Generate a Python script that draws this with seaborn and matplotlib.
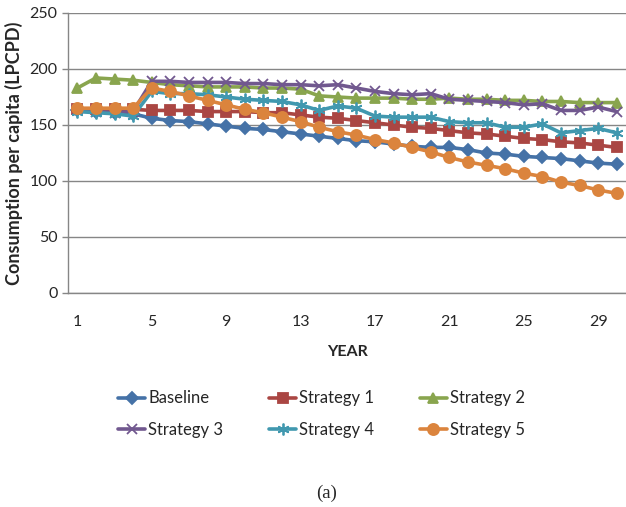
import matplotlib
matplotlib.use('Agg')
import matplotlib.pyplot as plt
import seaborn as sns

# values
years = list(range(1, 31))
baseline = [163, 162, 161, 160, 156, 154, 153, 151, 149, 147, 146, 144, 142, 140, 138,
            136, 135, 133, 131, 130, 130, 128, 125, 124, 122, 121, 120, 118, 116, 115]
strategy1 = [164, 164, 164, 164, 163, 163, 163, 162, 162, 162, 161, 161, 159, 157, 156,
             154, 152, 150, 148, 147, 145, 143, 142, 140, 138, 137, 135, 134, 132, 130]
strategy2 = [183, 192, 191, 190, 188, 186, 185, 184, 184, 184, 183, 183, 182, 176, 175,
             174, 174, 174, 173, 173, 174, 173, 173, 172, 172, 171, 171, 170, 170, 170]
strategy3 = [163, 162, 161, 162, 189, 189, 188, 188, 188, 187, 187, 186, 186, 185, 186,
             183, 180, 178, 177, 178, 173, 172, 171, 170, 168, 169, 163, 163, 166, 162]
strategy4 = [162, 161, 160, 158, 180, 178, 178, 177, 175, 173, 172, 171, 168, 163, 167,
             165, 158, 157, 157, 157, 153, 152, 152, 148, 148, 151, 143, 145, 147, 143]
strategy5 = [165, 165, 165, 165, 183, 180, 176, 172, 168, 164, 161, 157, 153, 148, 144,
             141, 137, 134, 130, 126, 121, 117, 114, 111, 107, 104, 99, 96, 92, 89]

names = ['Baseline', 'Strategy 1', 'Strategy 2', 'Strategy 3', 'Strategy 4', 'Strategy 5']
colors = ['#4572A7', '#AA4643', '#89A54E', '#71588F', '#4198AF', '#DB843D']
markers = ['D', 's', '^', 'x', (6, 2, 0), 'o']
sizes = [6.5, 7.5, 7.5, 7.5, 8.5, 8]

sns.set_style('white')
plt.rcParams['font.family'] = ['Lato', 'DejaVu Sans']

fig = plt.figure(figsize=(6.26, 5.07), dpi=100)
ax = fig.add_axes([68 / 626, 1 - 293 / 507, 558 / 626, 280 / 507])

grey = '#868686'
ax.yaxis.grid(True, color=grey, linewidth=1)
ax.set_axisbelow(True)

handles = []
all_vals = [baseline, strategy1, strategy2, strategy3, strategy4, strategy5]
for name, vals, color, marker, ms in zip(names, all_vals, colors, markers, sizes):
    sns.lineplot(x=years, y=vals, ax=ax, color=color, marker=marker, markersize=ms,
                 linewidth=2.6, markeredgecolor=color, markeredgewidth=1.3,
                 label=name, legend=False)
    handles.append(ax.lines[-1])

ax.set_xlim(0.5, 30.5)
ax.set_ylim(0, 250)
ax.set_yticks(range(0, 251, 50))
ax.set_xticks(range(1, 30, 4))
ax.set_xticks([x + 0.5 for x in range(0, 31)], minor=True)
ax.tick_params(axis='x', which='major', length=0, labelsize=11.5, pad=16)
ax.tick_params(axis='x', which='minor', length=4, color=grey, width=1, direction='out')
ax.tick_params(axis='y', length=4, color=grey, width=1, direction='out', labelsize=11.5, left=True)

for side in ['top', 'right']:
    ax.spines[side].set_visible(False)
for side in ['left', 'bottom']:
    ax.spines[side].set_color(grey)
    ax.spines[side].set_linewidth(1)

ax.set_xlabel('YEAR', fontsize=11.5, fontweight='bold', labelpad=11)
ax.set_ylabel('Consumption per capita (LPCPD)', fontsize=13, fontweight='bold', labelpad=5)

order = [0, 3, 1, 4, 2, 5]
fig.legend([handles[i] for i in order], [names[i] for i in order],
           ncol=3, loc='upper left', bbox_to_anchor=(110 / 626, 1 - 382 / 507),
           frameon=False, fontsize=12, borderpad=0, handlelength=1.6,
           handletextpad=0.2, columnspacing=2.75, labelspacing=0.95)

fig.text(327 / 626, 1 - 493 / 507, '(a)', family=['Liberation Serif'], fontsize=13.5,
         ha='center', va='center')

fig.savefig('out.png', dpi=100)
